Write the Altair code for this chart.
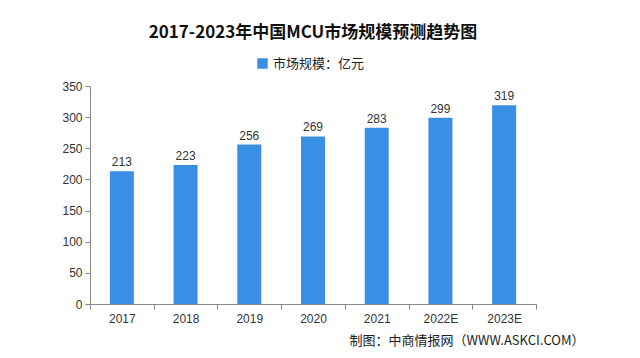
import altair as alt
import pandas as pd

years = ["2017", "2018", "2019", "2020", "2021", "2022E", "2023E"]
values = [213, 223, 256, 269, 283, 299, 319]
series_name = "市场规模：亿元"
title_text = "2017-2023年中国MCU市场规模预测趋势图"
source_text = "制图：中商情报网（WWW.ASKCI.COM）"
y_ticks = [0, 50, 100, 150, 200, 250, 300, 350]

df = pd.DataFrame({"year": years, "value": values, "series": [series_name] * len(years)})

FONT = "Noto Sans CJK SC"
BAR = "#3a8fe4"

x_enc = alt.X("year:N", sort=years,
              scale=alt.Scale(paddingInner=0, paddingOuter=0),
              axis=alt.Axis(title=source_text, titleFont=FONT, titleFontSize=13,
                            titleFontWeight="normal", titleColor="#222",
                            titleAnchor="end", titleAlign="right", titleX=494, titleY=30,
                            labelAngle=0, labelFont="Liberation Sans", labelFontSize=12,
                            labelColor="#333", tickBand="extent", tickSize=5,
                            domainColor="#888", tickColor="#888", labelPadding=4))
y_enc = alt.Y("value:Q", scale=alt.Scale(domain=[0, 350], nice=False),
              axis=alt.Axis(title=None, values=y_ticks, labelOverlap=False,
                            grid=False, labelFont="Liberation Sans", labelFontSize=12,
                            labelColor="#333", domainColor="#888", tickColor="#888",
                            tickSize=5, labelPadding=3))

base = alt.Chart(df).encode(x=x_enc, y=y_enc)

bars = base.mark_bar(color=BAR, width=24).encode(
    color=alt.Color("series:N", scale=alt.Scale(range=[BAR]),
                    legend=alt.Legend(title=None, orient="none", legendX=166, legendY=-29,
                                      symbolType="square", symbolSize=110,
                                      labelFont=FONT, labelFontSize=13, labelColor="#222",
                                      symbolStrokeWidth=0)),
)

labels = base.mark_text(dy=-9, font="Liberation Sans", fontSize=12, color="#333").encode(
    text="value:Q",
)

chart = alt.layer(bars, labels).properties(
    width=446, height=218,
    padding={"left": 82, "top": 78, "right": 96, "bottom": 54},
    autosize=alt.AutoSizeParams(type="none"),
    background="white",
    title=alt.TitleParams(title_text, font=FONT, fontSize=17, fontWeight="bold",
                          color="#111", anchor="middle", offset=15),
).configure_view(stroke=None)

chart.save("out.html", embed_options={"renderer": "svg", "actions": False})
